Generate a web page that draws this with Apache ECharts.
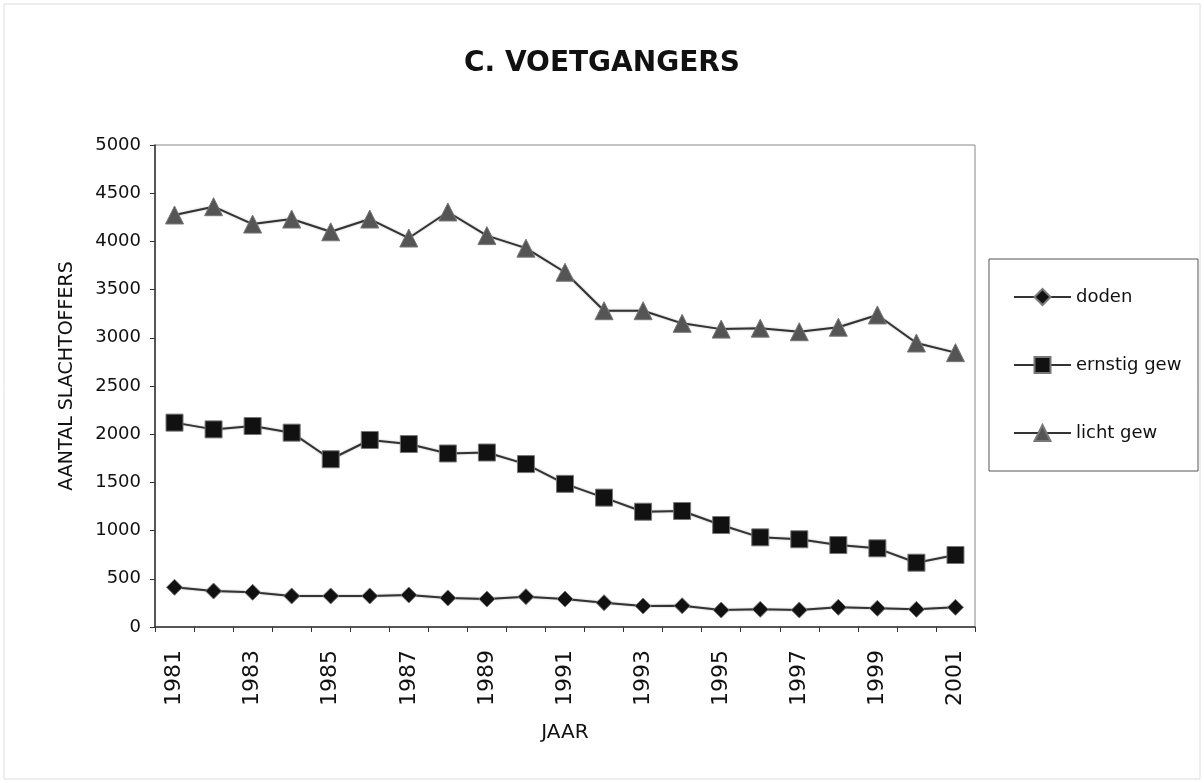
<!DOCTYPE html>
<html>
<head>
<meta charset="utf-8">
<script src="https://cdn.jsdelivr.net/npm/echarts@6/dist/echarts.min.js"></script>
<style>
    html, body { margin: 0; padding: 0; background: #fff; }
    #figure { width: 1204px; height: 783px; }
</style>
</head>
<body>
<div id="figure"></div>
<script>
// data
let years = ['1981', '1982', '1983', '1984', '1985', '1986', '1987', '1988', '1989', '1990', '1991',
    '1992', '1993', '1994', '1995', '1996', '1997', '1998', '1999', '2000', '2001'];
let doden = [412, 373, 360, 322, 322, 322, 332, 301, 290, 315, 290,
    252, 218, 221, 176, 183, 176, 204, 194, 183, 204];
let ernstig_gew = [2120, 2050, 2085, 2016, 1740, 1940, 1898, 1800, 1810, 1690, 1485,
    1342, 1196, 1203, 1058, 930, 910, 850, 816, 667, 747];
let licht_gew = [4274, 4360, 4180, 4232, 4100, 4232, 4035, 4305, 4060, 3930, 3680,
    3281, 3281, 3150, 3090, 3100, 3063, 3110, 3237, 2946, 2846];

let font = 'DejaVu Sans, Liberation Sans, sans-serif';

function line_series(name, data, symbol, size, color) {
    return {
        name: name,
        type: 'line',
        data: data,
        symbol: symbol,
        symbolSize: size,
        itemStyle: { color: color, borderColor: '#777', borderWidth: 1 },
        lineStyle: { color: '#333', width: 2, shadowColor: '#aaa', shadowBlur: 2 },
        emphasis: { disabled: true },
        animation: false
    };
}

let myChart = echarts.init(document.getElementById('figure'));
myChart.setOption({
    backgroundColor: '#fff',
    title: {
        text: 'C. VOETGANGERS',
        left: 'center',
        top: 45,
        textStyle: { fontFamily: font, fontSize: 28, fontWeight: 'bold', color: '#111' }
    },
    graphic: [{
        type: 'rect',
        shape: { x: 4, y: 4, width: 1196, height: 775 },
        style: { fill: 'none', stroke: '#ddd', lineWidth: 1 },
        silent: true
    }, {
        type: 'rect',
        shape: { x: 989, y: 259, width: 209, height: 212 },
        style: { fill: 'none', stroke: '#555', lineWidth: 1 },
        silent: true
    }],
    legend: {
        orient: 'vertical',
        left: 1013,
        top: 288,
        padding: 0,
        itemGap: 50,
        itemWidth: 57,
        itemHeight: 20,
        itemTextGap: 2,
        textStyle: { fontFamily: font, fontSize: 18, color: '#111' },
        data: ['doden', 'ernstig gew', 'licht gew']
    },
    grid: {
        left: 155,
        right: 229,
        top: 145,
        bottom: 156,
        show: true,
        borderColor: '#888',
        borderWidth: 1,
        containLabel: false
    },
    xAxis: {
        type: 'category',
        data: years,
        boundaryGap: true,
        name: 'JAAR',
        nameLocation: 'middle',
        nameGap: 96,
        nameTextStyle: { fontFamily: font, fontSize: 20, color: '#111' },
        axisLine: { lineStyle: { color: '#333', width: 1.5 } },
        axisTick: { show: true, interval: 0, length: 5, lineStyle: { color: '#333' } },
        axisLabel: {
            interval: 1,
            rotate: 90,
            fontFamily: font,
            fontSize: 22,
            color: '#111',
            margin: 23
        },
        splitLine: { show: false }
    },
    yAxis: {
        type: 'value',
        min: 0,
        max: 5000,
        interval: 500,
        name: 'AANTAL SLACHTOFFERS',
        nameLocation: 'middle',
        nameGap: 78,
        nameRotate: 90,
        nameTextStyle: { fontFamily: font, fontSize: 19, color: '#111', padding: [0, 0, 0, 20] },
        axisLine: { show: true, lineStyle: { color: '#333', width: 1.5 } },
        axisTick: { show: true, length: 5, lineStyle: { color: '#333' } },
        axisLabel: {
            fontFamily: font,
            fontSize: 18,
            color: '#111',
            margin: 14,
            formatter: function (v) { return String(v); }
        },
        splitLine: { show: false }
    },
    series: [
        line_series('doden', doden, 'diamond', 16, '#111'),
        line_series('ernstig gew', ernstig_gew, 'rect', 17, '#111'),
        line_series('licht gew', licht_gew, 'triangle', 18, '#555')
    ]
});
</script>
</body>
</html>
